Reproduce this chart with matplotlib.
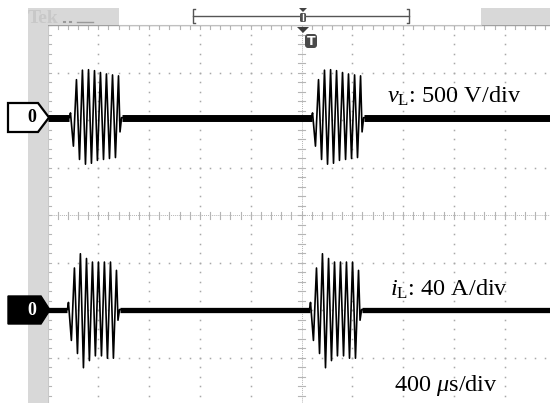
import matplotlib
matplotlib.use("Agg")
import matplotlib.pyplot as plt
from matplotlib.patches import Polygon, Rectangle, FancyBboxPatch
import numpy as np

plt.rcParams["mathtext.fontset"] = "custom"
plt.rcParams["mathtext.rm"] = "Liberation Serif"
plt.rcParams["mathtext.it"] = "Liberation Serif:italic"

# scope settings
us_per_div = 400
v_per_div = 500
a_per_div = 40
screen_us = 4000

# burst start times, us from the left edge of the screen
vl_burst_start = [173, 2079]
il_burst_start = [157, 2063]

# half-cycle peak times inside a burst, us after the burst start
burst_t = [0, 8, 31, 55, 79, 102, 126, 150, 173, 197, 220, 244, 268, 291,
           315, 339, 362, 386, 398, 410]
# peak values
vl_peaks = [0, 50, -300, 400, -440, 500, -490, 505, -480, 495, -450, 475,
            -440, 460, -430, 450, -420, 440, -150, 0]            # V
il_peaks = [0, 6, -26, 35, -37, 47, -49, 43, -43, 40, -39, 40, -39, 40,
            -41, 40, -41, 33, -9, 0]                             # A

# channel zero levels (div from screen centre)
vl_offset = 2.06
il_offset = -1.98


def build_trace(starts, peaks):
    t, y = [0], [0]
    for s in starts:
        t += [s + dt for dt in burst_t]
        y += list(peaks)
    t.append(screen_us + 200)
    y.append(0)
    return np.array(t, float), np.array(y, float)


def quiet_parts(starts):
    parts = []
    prev = 0
    for s in starts:
        parts.append((prev, s))
        prev = s + burst_t[-1]
    parts.append((prev, screen_us + 200))
    return parts


W, H = 550, 403
fig = plt.figure(figsize=(W / 100, H / 100), dpi=100)
fig.patch.set_facecolor("white")

# screen area in pixels
gx0, gy0, dx, dy = 47.5, 25.5, 50.8, 47.5
ax = fig.add_axes([gx0 / W, 1 - (gy0 + 8 * dy) / H, 10 * dx / W, 8 * dy / H])
ax.set_xlim(0, 10)
ax.set_ylim(-4, 4)
ax.axis("off")

dot_c = "#a8a8a8"
# dotted graticule
for xm in [1, 2, 3, 4, 6, 7, 8, 9]:
    yy = np.arange(-4, 4.01, 0.2)
    ax.plot(np.full_like(yy, xm), yy, ls="none", marker="s", ms=1.1,
            mec="none", mfc=dot_c, zorder=1)
for ym in [-3, -2, -1, 1, 2, 3]:
    xx = np.arange(0, 10.01, 0.2)
    ax.plot(xx, np.full_like(xx, ym), ls="none", marker="s", ms=1.1,
            mec="none", mfc=dot_c, zorder=1)

# centre cross with ruler ticks
tick_c = "#b5b5b5"
ax.plot([0, 10], [0, 0], color=tick_c, lw=0.7, ls=(0, (1, 1)), zorder=1)
ax.plot([5, 5], [-4, 4], color=tick_c, lw=0.7, ls=(0, (1, 1)), zorder=1)
for xt in np.arange(0, 10.01, 0.2):
    ax.plot([xt, xt], [-0.07, 0.07], color=tick_c, lw=0.8, zorder=1)
    ax.plot([xt, xt], [4, 3.92], color=tick_c, lw=0.8, zorder=1)
for yt in np.arange(-4, 4.01, 0.2):
    ax.plot([4.935, 5.065], [yt, yt], color=tick_c, lw=0.8, zorder=1)
    ax.plot([0, 0.07], [yt, yt], color=tick_c, lw=0.8, zorder=1)
ax.plot([0, 0], [-4, 4], color="#c8c8c8", lw=0.8, zorder=1)
ax.plot([0, 10], [4, 4], color="#a0a0a0", lw=1.0, zorder=1)

# traces
t1, y1 = build_trace(vl_burst_start, vl_peaks)
t2, y2 = build_trace(il_burst_start, il_peaks)
ax.plot(t1 / us_per_div, y1 / v_per_div + vl_offset, color="black", lw=1.2,
        zorder=3)
ax.plot(t2 / us_per_div, y2 / a_per_div + il_offset, color="black", lw=1.2,
        zorder=3)
for a, b in quiet_parts(vl_burst_start):
    ax.plot([a / us_per_div, b / us_per_div], [vl_offset, vl_offset],
            color="black", lw=5.0, solid_capstyle="butt", zorder=3)
for a, b in quiet_parts(il_burst_start):
    ax.plot([a / us_per_div, b / us_per_div], [il_offset, il_offset],
            color="black", lw=3.8, solid_capstyle="butt", zorder=3)

# overlay in pixel coordinates
ov = fig.add_axes([0, 0, 1, 1])
ov.set_xlim(0, W)
ov.set_ylim(H, 0)
ov.axis("off")
ov.patch.set_alpha(0)

gray = "#d8d8d8"
ov.add_patch(Rectangle((27.5, 8), 20, H, color=gray, lw=0))
ov.add_patch(Rectangle((27.5, 8), 91, 17, color=gray, lw=0))
ov.add_patch(Rectangle((481, 8), 80, 17, color=gray, lw=0))
ov.plot([118.5, 481], [24.5, 24.5], color="#c0c0c0", lw=0.8)
ov.text(28, 23, "Tek", fontsize=14, family="Liberation Serif",
        color="#c8c8c8", fontweight="bold")
ov.plot([64, 64.5], [22, 22], color="#999999", lw=1.5)
ov.plot([70, 70.5], [22, 22], color="#999999", lw=1.5)
ov.plot([77, 93], [22, 22], color="#999999", lw=1)

# record-length bracket
br = "#555555"
ov.plot([193, 409], [16, 16], color=br, lw=1)
ov.plot([195, 193, 193, 195], [9, 9, 23, 23], color=br, lw=1)
ov.plot([407, 409, 409, 407], [9, 9, 23, 23], color=br, lw=1)
ov.add_patch(Polygon([[299, 8], [307, 8], [303, 12]], color="#444444", lw=0))
ov.add_patch(FancyBboxPatch((300, 13), 6, 9, boxstyle="round,pad=0,rounding_size=1.5",
                            fc="#505050", ec="none"))
ov.plot([303, 303], [14, 20], color="white", lw=1)

# trigger position markers
ov.add_patch(Polygon([[297, 27], [309, 27], [303, 33]], color="#3c3c3c", lw=0))
ov.add_patch(FancyBboxPatch((305, 34), 12, 14, boxstyle="round,pad=0,rounding_size=3",
                            fc="#4a4a4a", ec="none"))
ov.text(311, 41.5, "T", color="white", fontsize=9, fontweight="bold",
        ha="center", va="center", family="DejaVu Sans")

# channel zero markers
ov.add_patch(Polygon([[8, 103], [38, 103], [49, 117.5], [38, 132], [8, 132]],
                     closed=True, fc="white", ec="black", lw=1.6))
ov.text(32, 118, "0", fontsize=13, fontweight="bold", family="Liberation Serif",
        ha="center", va="center", color="black")
ov.add_patch(Polygon([[8, 296], [41, 296], [50, 310], [41, 324], [8, 324]],
                     closed=True, fc="black", ec="black", lw=1))
ov.text(32, 310.5, "0", fontsize=13, fontweight="bold", family="Liberation Serif",
        ha="center", va="center", color="white")

# scale labels
lab = dict(fontsize=17.5, family="Liberation Serif", color="black",
           ha="left", va="baseline")
ov.text(387, 103, r"$v_{\mathrm{L}}$: 500 V/div", **lab)
ov.text(390, 296, r"$i_{\mathrm{L}}$: 40 A/div", **lab)
ov.text(394, 391, r"400 $\mu$s/div", **lab)

fig.savefig("out.png", dpi=100, facecolor="white")
